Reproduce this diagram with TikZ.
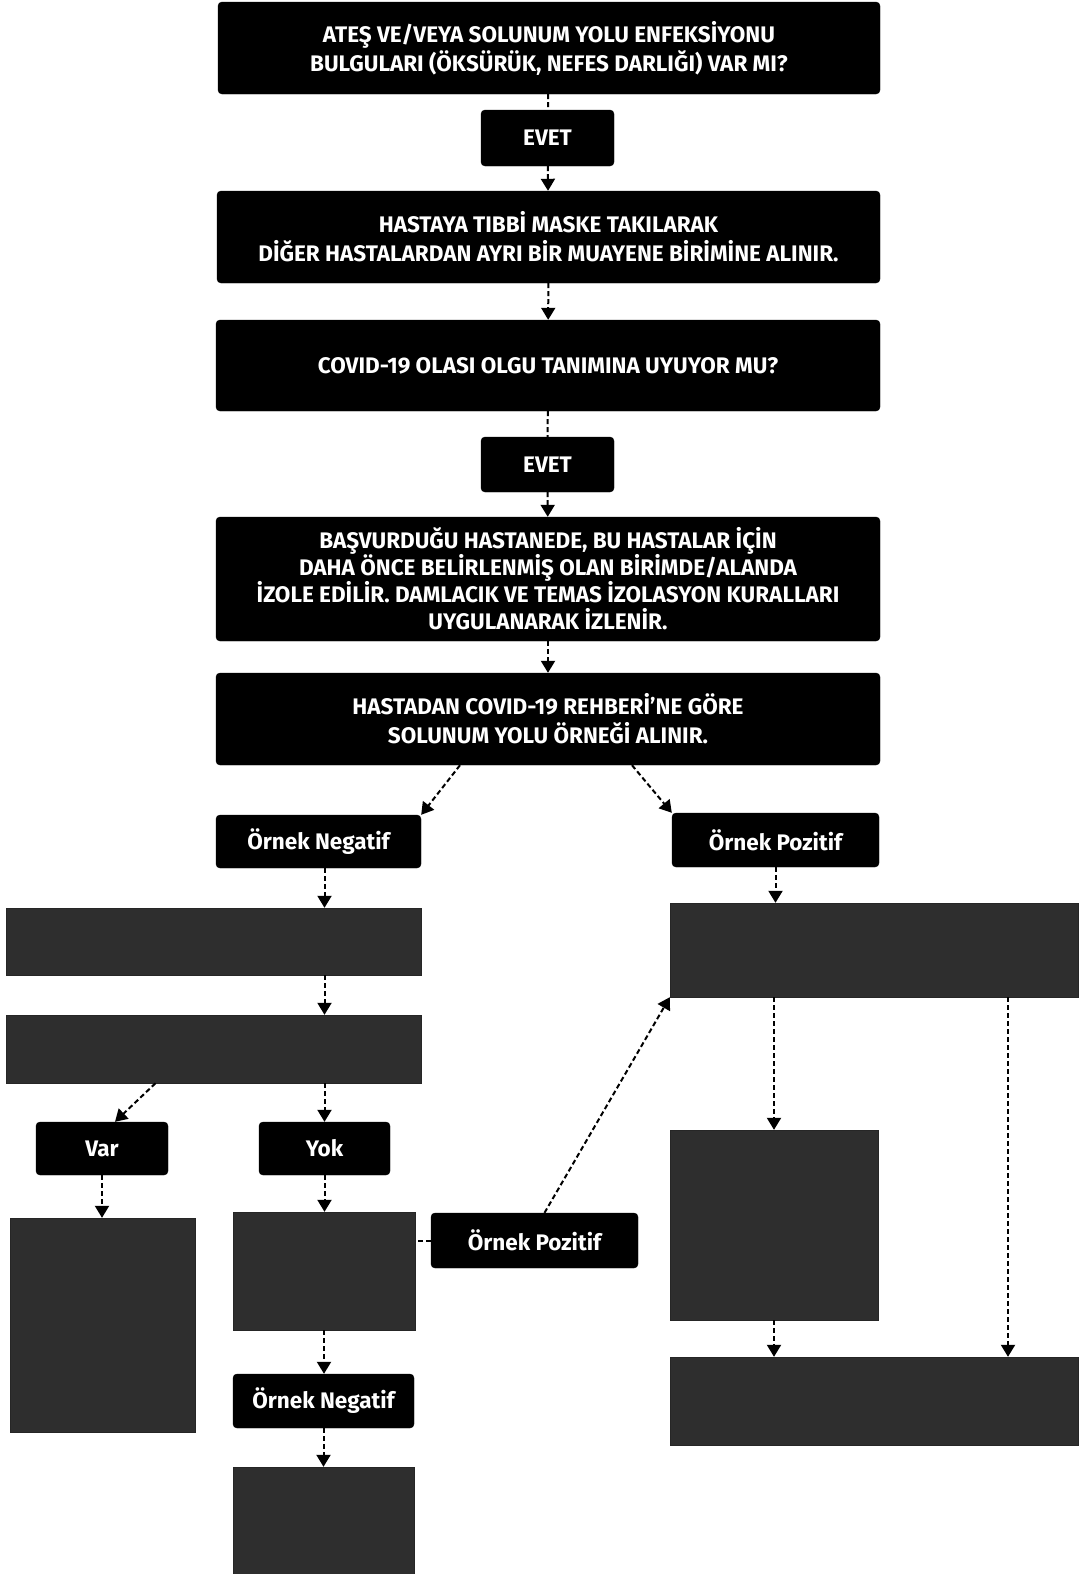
\documentclass[tikz,border=0pt]{standalone}
\usepackage{fontspec}
\setmainfont{Fira Sans}
\usepackage{tikz}
\usetikzlibrary{arrows.meta}
\usetikzlibrary{positioning}
\usetikzlibrary{calc}
\tikzset{
  flownode/.style = {align=center, inner sep=0pt, text centered,
    font=\bfseries\fontsize{22.5}{29}\selectfont},
  kara/.style = {flownode, rectangle, rounded corners=4pt, white, draw=black,
    fill=black},% siyah kutu, beyaz yazi
  gri/.style = {flownode, rectangle, draw=black!85, fill=black!82},% gri kutu, bos
  ok/.style = {-{Triangle[width=14pt,length=12pt]}, dash pattern=on 5pt off 3pt,
    line width=2pt},% kesikli ok
  cizgi/.style = {dash pattern=on 5pt off 3pt, line width=2pt}% oksuz kesikli
}

\begin{document}
\begin{tikzpicture}[x=1pt,y=-1pt]
\useasboundingbox (0,0) rectangle (1081,1574);
% ust sutun
\node [kara, minimum width=662pt, minimum height=92pt] (soru) at (549,48)
  {ATEŞ VE/VEYA SOLUNUM YOLU ENFEKSİYONU\\BULGULARI (ÖKSÜRÜK, NEFES DARLIĞI) VAR MI?};
\node [kara, minimum width=133pt, minimum height=56pt] (evet1) at (547.5,138) {EVET};
\node [kara, minimum width=663pt, minimum height=92pt] (maske) at (548.5,237)
  {HASTAYA TIBBİ MASKE TAKILARAK\\DİĞER HASTALARDAN AYRI BİR MUAYENE BİRİMİNE ALINIR.};
\node [kara, minimum width=664pt, minimum height=91pt] (olasi) at (548,365.5)
  {COVID-19 OLASI OLGU TANIMINA UYUYOR MU?};
\node [kara, minimum width=133pt, minimum height=55pt] (evet2) at (547.5,464.5) {EVET};
\node [kara, minimum width=664pt, minimum height=124pt,
  font=\bfseries\fontsize{22.5}{27}\selectfont] (izole) at (548,579)
  {BAŞVURDUĞU HASTANEDE, BU HASTALAR İÇİN\\DAHA ÖNCE BELİRLENMİŞ OLAN BİRİMDE/ALANDA\\
   İZOLE EDİLİR. DAMLACIK VE TEMAS İZOLASYON KURALLARI\\UYGULANARAK İZLENİR.};
\node [kara, minimum width=664pt, minimum height=92pt] (ornek) at (548,719)
  {HASTADAN COVID-19 REHBERİ'NE GÖRE\\SOLUNUM YOLU ÖRNEĞİ ALINIR.};
% sol kol
\node [kara, minimum width=205pt, minimum height=53pt] (neg1) at (318.5,841.5) {Örnek Negatif};
\node [gri, minimum width=415pt, minimum height=67pt] (g1) at (213.5,941.5) {};
\node [gri, minimum width=415pt, minimum height=68pt] (g2) at (213.5,1049) {};
\node [kara, minimum width=132pt, minimum height=53pt] (var) at (102,1148.5) {Var};
\node [kara, minimum width=131pt, minimum height=53pt] (yok) at (324.5,1148.5) {Yok};
\node [gri, minimum width=185pt, minimum height=214pt] (gvar) at (102.5,1325) {};
\node [gri, minimum width=182pt, minimum height=118pt] (gyok) at (324,1271) {};
\node [kara, minimum width=207pt, minimum height=55pt] (pos2) at (534.5,1240.5) {Örnek Pozitif};
\node [kara, minimum width=181pt, minimum height=54pt] (neg2) at (323.5,1401) {Örnek Negatif};
\node [gri, minimum width=181pt, minimum height=110pt] (gneg) at (323.5,1522) {};
% sag kol
\node [kara, minimum width=207pt, minimum height=54pt] (pos1) at (775.5,840) {Örnek Pozitif};
\node [gri, minimum width=408pt, minimum height=94pt] (gpos) at (874,950) {};
\node [gri, minimum width=208pt, minimum height=190pt] (gmid) at (774,1225) {};
\node [gri, minimum width=408pt, minimum height=88pt] (gbot) at (874,1401) {};

% baglantilar
\draw [cizgi] (soru) -- (evet1);
\draw [ok] (evet1) -- (maske);
\draw [ok] (maske) -- (olasi);
\draw [cizgi] (olasi) -- (evet2);
\draw [ok] (evet2) -- (izole);
\draw [ok] (izole) -- (ornek);
\draw [ok] ([xshift=-88pt]ornek.south) -- (neg1.north east);
\draw [ok] ([xshift=84pt]ornek.south) -- (pos1.north west);
\draw [ok] ([xshift=6pt]neg1.south) -- ([xshift=6pt]neg1.south |- g1.north);
\draw [ok] ([xshift=6pt]neg1.south |- g1.south) -- ([xshift=6pt]neg1.south |- g2.north);
\draw [ok] ([xshift=-58pt]g2.south) -- ([xshift=13pt]var.north);
\draw [ok] (g2.south -| yok) -- (yok.north);
\draw [ok] (var.south) -- (var.south |- gvar.north);
\draw [ok] (yok.south) -- (yok.south |- gyok.north);
\draw [ok] (gyok.south) -- (gyok.south |- neg2.north);
\draw [ok] (neg2.south) -- (neg2.south |- gneg.north);
\draw [cizgi] (pos2.west) -- (gyok.east |- pos2.west);
\draw [ok] ([xshift=10pt]pos2.north) -- (gpos.south west);
\draw [ok] (pos1.south) -- (pos1.south |- gpos.north);
\draw [ok] (gmid.north |- gpos.south) -- (gmid.north);
\draw [ok] ([xshift=134pt]gpos.south) -- ([xshift=134pt]gpos.south |- gbot.north);
\draw [ok] (gmid.south) -- (gmid.south |- gbot.north);
\end{tikzpicture}
\end{document}
